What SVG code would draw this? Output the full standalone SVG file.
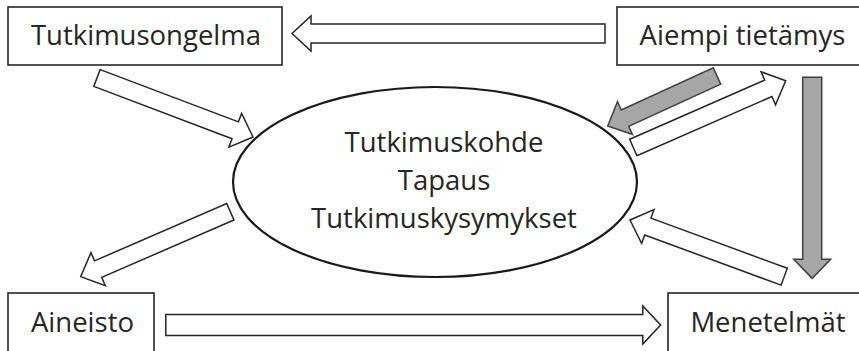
<svg xmlns="http://www.w3.org/2000/svg" width="859" height="351" viewBox="0 0 859 351">
<style>
.box{fill:#fff;stroke:#262626;stroke-width:1.6}
.lbl{font-family:"Open Sans","Noto Sans","Liberation Sans",sans-serif;font-size:27.5px;fill:#262626;text-anchor:middle}
.ar{fill:#fff;stroke:#262626;stroke-width:1.5;stroke-linejoin:miter}
.gr{fill:#a6a6a6;stroke:#404040;stroke-width:1.5;stroke-linejoin:miter}
.ell{fill:#fff;stroke:#1a1a1a;stroke-width:2.2}
</style>
<rect width="859" height="351" fill="#fff"/>
<g id="connectors">
<polygon class="ar" transform="translate(605,33.5) rotate(180)" points="0,-9.5 294,-9.5 294,-17.5 313,0 294,17.5 294,9.5 0,9.5"/>
<polygon class="ar" transform="translate(97,78) rotate(20.72)" points="0,-9 147.8,-9 147.8,-18 166.8,0 147.8,18 147.8,9 0,9"/>
<polygon class="gr" transform="translate(717,76) rotate(155.42)" points="0,-9 101.2,-9 101.2,-18 120.2,0 101.2,18 101.2,9 0,9"/>
<polygon class="ar" transform="translate(633.3,147.5) rotate(-23.67)" points="0,-9 147.4,-9 147.4,-18 166.4,0 147.4,18 147.4,9 0,9"/>
<polygon class="gr" transform="translate(812.2,77.3) rotate(90)" points="0,-9.5 182,-9.5 182,-18.5 201,0 182,18.5 182,9.5 0,9.5"/>
<polygon class="ar" transform="translate(784.2,276.7) rotate(200.19)" points="0,-9 145.3,-9 145.3,-18 164.3,0 145.3,18 145.3,9 0,9"/>
<polygon class="ar" transform="translate(230.3,211.7) rotate(156.52)" points="0,-9 144.1,-9 144.1,-18 163.1,0 144.1,18 144.1,9 0,9"/>
<polygon class="ar" transform="translate(165.8,325) rotate(0)" points="0,-10.5 477,-10.5 477,-19 494.8,0 477,19 477,10.5 0,10.5"/>
</g>
<g id="tutkimusongelma">
<rect class="box" x="8" y="7" width="274" height="58"/>
<text class="lbl" x="146" y="45">Tutkimusongelma</text>
</g>
<g id="aiempi">
<rect class="box" x="617" y="7" width="250" height="58"/>
<text class="lbl" x="742.5" y="45">Aiempi tietämys</text>
</g>
<g id="aineisto">
<rect class="box" x="8" y="293" width="146" height="70"/>
<text class="lbl" x="82.5" y="332">Aineisto</text>
</g>
<g id="menetelmat">
<rect class="box" x="668" y="293" width="200" height="70"/>
<text class="lbl" x="768" y="332">Menetelmät</text>
</g>
<g id="tutkimuskohde">
<ellipse class="ell" cx="435" cy="182" rx="202" ry="95"/>
<text class="lbl" x="444" y="152">Tutkimuskohde</text>
<text class="lbl" x="444" y="190">Tapaus</text>
<text class="lbl" x="444" y="228">Tutkimuskysymykset</text>
</g>
</svg>
